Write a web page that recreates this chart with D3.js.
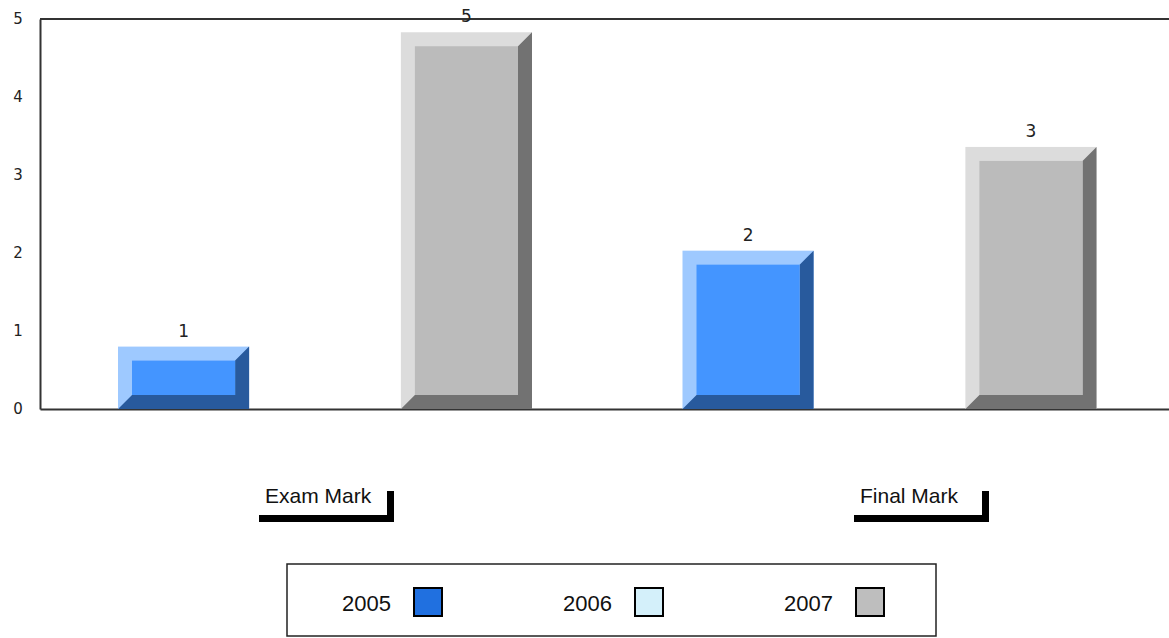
<!DOCTYPE html>
<html>
<head>
<meta charset="utf-8">
<script src="https://cdn.jsdelivr.net/npm/d3@7"></script>
<style>
  body { margin: 0; background: #fff; }
  svg { display: block; font-family: "Liberation Sans", Arial, sans-serif; }
</style>
</head>
<body>
<div id="chart"></div>
<script>
// data (labels above bars are the rounded values)
var categories = ["Exam Mark", "Final Mark"]
var series = ["2005", "2006", "2007"]
var values2005 = [0.8, 2.03]
var values2006 = [0, 0]
var values2007 = [4.83, 3.36]
var yTicks = [0, 1, 2, 3, 4, 5]

var faceColors = ["#4495ff", "#bfe6f6", "#bbbbbb"]
var lightColors = ["#9ec9ff", "#e3f5fc", "#dcdcdc"]
var darkColors = ["#285a9d", "#8fb3c2", "#727272"]
var legendColors = ["#2070e0", "#d4f0fa", "#bebebe"]

var width = 1169,
    height = 638

var margin = { top: 19, left: 40, bottom: 229 }

var svg = d3.select("#chart").append("svg")
    .attr("width", width)
    .attr("height", height)

var rows = [values2005, values2006, values2007]
var bars = []
categories.forEach(function (c, ci) {
  series.forEach(function (s, si) {
    bars.push({ category: c, series: s, si: si, value: rows[si][ci] })
  })
})

var x0 = d3.scaleBand()
    .domain(categories)
    .range([margin.left, width])

var x1 = d3.scaleBand()
    .domain(series)
    .range([78, 492])
    .paddingInner(0.073)

var y = d3.scaleLinear()
    .domain([0, 5])
    .range([height - margin.bottom, margin.top])

// frame: left + bottom axes, top line
svg.append("g")
    .attr("transform", "translate(" + margin.left + ",0)")
    .call(d3.axisLeft(y).tickValues(yTicks).tickSize(0).tickPadding(0).tickFormat(d3.format("d")))
    .call(function (g) {
      g.select(".domain").attr("stroke", "#333").attr("stroke-width", 2)
      g.selectAll("text")
        .attr("x", -22)
        .attr("text-anchor", "middle")
        .attr("font-size", 15)
        .attr("fill", "#222")
        .attr("font-family", "DejaVu Sans, Verdana, sans-serif")
    })

svg.append("g")
    .attr("transform", "translate(0," + y(0) + ")")
    .call(d3.axisBottom(x0).tickSize(0).tickFormat(""))
    .call(function (g) {
      g.select(".domain").attr("stroke", "#333").attr("stroke-width", 2)
    })

svg.append("line")
    .attr("x1", margin.left).attr("x2", width)
    .attr("y1", y(5)).attr("y2", y(5))
    .attr("stroke", "#333").attr("stroke-width", 2)

// bevelled bars
var bevel = 14
var g = svg.selectAll(".bar")
    .data(bars.filter(function (d) { return d.value > 0 }))
    .enter().append("g")
    .attr("class", "bar")

g.each(function (d) {
  var bx = x0(d.category) + x1(d.series),
      bw = x1.bandwidth(),
      by = y(d.value),
      bh = y(0) - y(d.value),
      el = d3.select(this)

  el.append("rect")
      .attr("x", bx).attr("y", by)
      .attr("width", bw).attr("height", bh)
      .attr("fill", lightColors[d.si])

  el.append("polygon")
      .attr("points", [
        [bx + bw, by], [bx + bw, by + bh], [bx, by + bh],
        [bx + bevel, by + bh - bevel], [bx + bw - bevel, by + bh - bevel], [bx + bw - bevel, by + bevel]
      ].join(" "))
      .attr("fill", darkColors[d.si])

  el.append("rect")
      .attr("x", bx + bevel).attr("y", by + bevel)
      .attr("width", bw - 2 * bevel).attr("height", bh - 2 * bevel)
      .attr("fill", faceColors[d.si])

  el.append("text")
      .attr("x", bx + bw / 2)
      .attr("y", by - 10)
      .attr("text-anchor", "middle")
      .attr("font-size", 17)
      .attr("font-family", "DejaVu Sans, Verdana, sans-serif")
      .attr("fill", "#222")
      .text(d3.format(".0f")(d.value))
})

// category labels with bracket underline
var labelX = d3.scaleLinear().domain([0, 1]).range([259, 854])
var lab = svg.selectAll(".catlabel")
    .data(categories)
    .enter().append("g")
    .attr("class", "catlabel")
    .attr("transform", function (d, i) { return "translate(" + labelX(i) + ",0)" })

lab.append("text")
    .attr("x", 6)
    .attr("y", 503)
    .attr("font-size", 21)
    .attr("fill", "#111")
    .text(function (d) { return d })

lab.append("path")
    .attr("d", "M0,518.5H131.5V491")
    .attr("fill", "none")
    .attr("stroke", "#000")
    .attr("stroke-width", 7)

// legend
svg.append("rect")
    .attr("x", 287).attr("y", 564)
    .attr("width", 649).attr("height", 72)
    .attr("fill", "#fff")
    .attr("stroke", "#222")
    .attr("stroke-width", 1.5)

var leg = svg.selectAll(".legend")
    .data(series)
    .enter().append("g")
    .attr("class", "legend")
    .attr("transform", function (d, i) { return "translate(" + (342 + i * 221) + ",0)" })

leg.append("text")
    .attr("x", 0)
    .attr("y", 611)
    .attr("font-size", 22)
    .attr("fill", "#111")
    .text(function (d) { return d })

leg.append("rect")
    .attr("x", 72).attr("y", 588)
    .attr("width", 28).attr("height", 28)
    .attr("fill", function (d, i) { return legendColors[i] })
    .attr("stroke", "#000")
    .attr("stroke-width", 2)
</script>
</body>
</html>
